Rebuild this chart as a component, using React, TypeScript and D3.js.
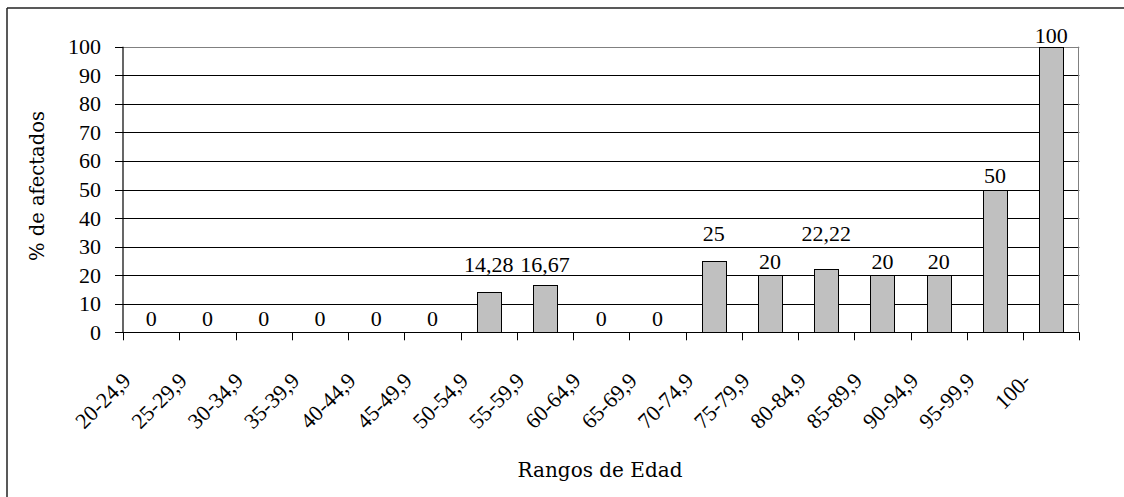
import React from "react";
import * as d3 from "d3";

const categories = [
  "20-24,9", "25-29,9", "30-34,9", "35-39,9", "40-44,9", "45-49,9",
  "50-54,9", "55-59,9", "60-64,9", "65-69,9", "70-74,9", "75-79,9",
  "80-84,9", "85-89,9", "90-94,9", "95-99,9", "100-",
];
const values = [0, 0, 0, 0, 0, 0, 14.28, 16.67, 0, 0, 25, 20, 22.22, 20, 20, 50, 100];
const valueLabels = ["0", "0", "0", "0", "0", "0", "14,28", "16,67", "0", "0", "25", "20", "22,22", "20", "20", "50", "100"];
const yTicks = [0, 10, 20, 30, 40, 50, 60, 70, 80, 90, 100];
// extra lift (px) of some value labels, as placed in the original chart
const labelLift = [0, 0, 0, 0, 0, 0, 13, 6, 0, 0, 13, 0, 21, 0, 0, 0, -3];

const W = 1124;
const H = 497;
const FONT = "'Liberation Serif', 'Times New Roman', serif";
const TITLE_FONT = "'DejaVu Serif', serif";
const FS = 22;

export default function App() {
  const left = 123, right = 1079.3, top = 46.7, bottom = 332.3;
  const x = d3.scaleBand<string>().domain(categories).range([left, right]).paddingInner(0).paddingOuter(0);
  const y = d3.scaleLinear().domain([0, 100]).range([bottom, top]);
  const bw = 24;
  const step = x.step();

  return (
    <svg width={W} height={H} style={{ position: "absolute", left: 0, top: 0, background: "#fff" }}
      fontFamily={FONT}>
      <rect x={0} y={0} width={W} height={H} fill="#fff" />
      {/* outer frame (left + top visible) */}
      <line x1={7} y1={8} x2={W} y2={8} stroke="#222" strokeWidth={1.5} />
      <line x1={7} y1={8} x2={7} y2={H} stroke="#222" strokeWidth={1.5} />

      {/* gridlines */}
      {yTicks.filter(t => t > 0 && t < 100).map(t => (
        <line key={"g" + t} x1={left} x2={right} y1={Math.round(y(t)) + 0.5} y2={Math.round(y(t)) + 0.5}
          stroke="#000" strokeWidth={1} />
      ))}
      {/* plot top & right border (grey) */}
      <line x1={left} x2={right} y1={Math.round(y(100)) + 0.5} y2={Math.round(y(100)) + 0.5} stroke="#808080" strokeWidth={1} />
      <line x1={Math.round(right) - 0.5} x2={Math.round(right) - 0.5} y1={y(100)} y2={bottom} stroke="#808080" strokeWidth={1} />

      {/* bars */}
      {categories.map((c, i) => {
        const cx = (x(c) as number) + step / 2;
        const v = values[i];
        if (v <= 0) return null;
        return (
          <rect key={"b" + c} x={Math.round(cx - bw / 2) + 0.5} y={Math.round(y(v)) + 0.5}
            width={bw} height={Math.round(bottom) - Math.round(y(v))}
            fill="#C0C0C0" stroke="#000" strokeWidth={1} />
        );
      })}

      {/* axes */}
      <line x1={left} x2={left} y1={top} y2={bottom + 0.5} stroke="#000" strokeWidth={1.2} />
      <line x1={left} x2={right} y1={Math.round(bottom) + 0.5} y2={Math.round(bottom) + 0.5} stroke="#000" strokeWidth={1.2} />
      {yTicks.map(t => (
        <g key={"yt" + t}>
          <line x1={left - 8} x2={left} y1={Math.round(y(t)) + 0.5} y2={Math.round(y(t)) + 0.5} stroke="#000" strokeWidth={1} />
          <text x={101} y={y(t) + 7.5} textAnchor="end" fontSize={FS} fill="#000">{t}</text>
        </g>
      ))}
      {d3.range(categories.length + 1).map(i => {
        const xx = Math.round(left + i * step) + 0.5;
        return <line key={"xt" + i} x1={xx} x2={xx} y1={bottom} y2={bottom + 8} stroke="#000" strokeWidth={1} />;
      })}
      {categories.map(c => {
        const cx = (x(c) as number) + step / 2;
        return (
          <text key={"xl" + c} transform={`translate(${cx - 19},${382}) rotate(-45)`} textAnchor="end"
            fontSize={FS} fill="#000">{c}</text>
        );
      })}

      {/* value labels */}
      {categories.map((c, i) => {
        const cx = (x(c) as number) + step / 2;
        return (
          <text key={"vl" + c} x={cx} y={y(values[i]) - 6.5 - labelLift[i]} textAnchor="middle"
            fontSize={FS} fill="#000">{valueLabels[i]}</text>
        );
      })}

      {/* axis titles */}
      <text transform="translate(44,186) rotate(-90)" textAnchor="middle" fontSize={19.5}
        fontFamily={TITLE_FONT} fill="#000">% de afectados</text>
      <text x={600} y={477} textAnchor="middle" fontSize={20} fontFamily={TITLE_FONT}
        fill="#000">Rangos de Edad</text>
    </svg>
  );
}
